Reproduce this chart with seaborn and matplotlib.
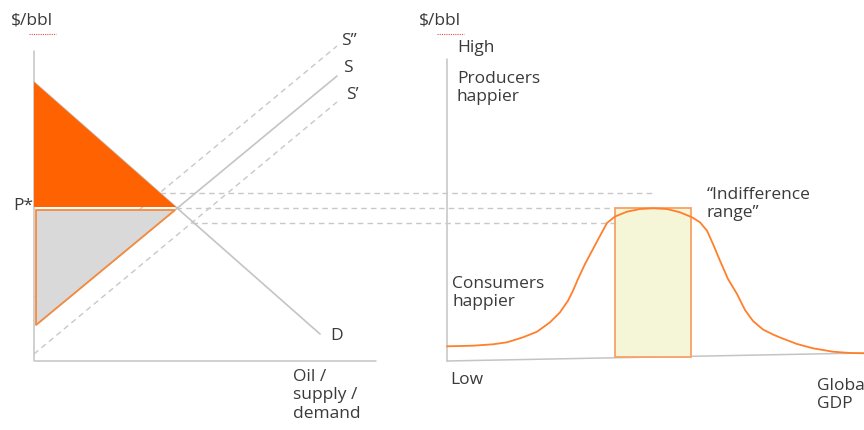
import numpy as np
import pandas as pd
import matplotlib
matplotlib.use('Agg')
import matplotlib.pyplot as plt
import seaborn as sns

sns.set_style('white')
plt.rcParams['font.family'] = ['Open Sans', 'DejaVu Sans']

## Data (diagram units: x to the right, y downwards, same scale as the picture)
# left panel: demand / supply lines
demand_x = [34, 320]
demand_y = [83, 335]
supply_x = [36, 337]
supply_y = [326, 77]
supply_hi_x = [34, 337]      # S''
supply_hi_y = [298, 47]
supply_lo_x = [34, 337]      # S'
supply_lo_y = [355, 103]

# price levels that run across to the right panel
price_levels = [194, 209, 224]
price_start = [160, 176, 192]
price_end = [653, 615, 615]

# producer / consumer surplus triangles
producer_x = [34, 34, 176]
producer_y = [83, 208, 208]
consumer_x = [36, 36, 175]
consumer_y = [211, 326, 211]

# right panel: happiness curve vs global GDP
gdp_x = [447, 473, 493, 507, 523, 537, 550, 560, 568, 573, 578, 585, 593, 601,
         607, 615, 627, 640, 653, 667, 680, 692, 700, 707, 713, 720, 728, 737,
         745, 753, 763, 773, 780, 797, 813, 833, 850, 864]
price_y = [347.3, 346.7, 345.3, 343.3, 338.3, 332.7, 323.3, 313.3, 301.7, 291.7,
           280, 265, 250, 235, 224, 217.5, 212.7, 210, 209.3, 210, 213.3, 218.3,
           223.3, 231.7, 245, 261.7, 280, 295, 311, 322, 330.5, 335.5, 338.5,
           345, 349.3, 352.7, 354, 354.3]

# indifference range box
box_x = [615, 691]
box_y = [209, 358]

fig = plt.figure(figsize=(8.64, 4.31), dpi=100)
ax = fig.add_axes([0, 0, 1, 1])
ax.set_xlim(0, 864)
ax.set_ylim(431, 0)
ax.axis('off')

axis_col = '#c4c4c4'
dash_col = '#c8c8c8'
orange = '#ff6200'
txt_col = '#3a3a3a'

# axes of both panels
ax.plot([34, 34], [52, 362], color=axis_col, lw=1.1)
ax.plot([35, 376], [362, 362], color=axis_col, lw=1.1)
ax.plot([447, 447], [60, 362], color=axis_col, lw=1.1)
ax.plot([447, 864], [362, 354], color=axis_col, lw=1.1)

# dashed supply lines and price levels
sns.lineplot(x=supply_hi_x, y=supply_hi_y, ax=ax, color=dash_col, lw=1, linestyle=(0, (4, 3)))
sns.lineplot(x=supply_lo_x, y=supply_lo_y, ax=ax, color=dash_col, lw=1, linestyle=(0, (4, 3)))
for lvl, x0, x1 in zip(price_levels, price_start, price_end):
    ax.plot([x0, x1], [lvl, lvl], color=dash_col, lw=1, linestyle=(0, (4, 3)))

# solid supply and demand
sns.lineplot(x=supply_x, y=supply_y, ax=ax, color=axis_col, lw=1.2)
sns.lineplot(x=demand_x, y=demand_y, ax=ax, color=axis_col, lw=1.2)

# surplus triangles
ax.fill(producer_x, producer_y, color=orange, lw=0, zorder=3)
ax.fill(consumer_x, consumer_y, facecolor='#d9d9d9', edgecolor='#f58a3c', lw=1.3, zorder=3)

# indifference box and curve
ax.fill([box_x[0], box_x[1], box_x[1], box_x[0]], [box_y[0], box_y[0], box_y[1], box_y[1]],
        facecolor='#f5f5d8', edgecolor='#f9a066', lw=1.3, zorder=2)
sns.lineplot(x=gdp_x, y=price_y, ax=ax, color='#ff7f2a', lw=1.3, zorder=4)

# labels
fs = 12.5
def label(x, y, s, **kw):
    ax.text(x, y, s, fontsize=fs, color=txt_col, ha='left', va='top', linespacing=1.2, **kw)

label(11, 13, '$/bbl')
label(419, 13, '$/bbl')
ax.plot([29, 56], [35, 35], color='#e05050', lw=0.8, linestyle=(0, (1, 1)))
ax.plot([437, 464], [35, 35], color='#e05050', lw=0.8, linestyle=(0, (1, 1)))
label(341, 33, 'S\u201d')
label(343, 60, 'S')
label(346, 87, 'S\u2019')
label(330, 328, 'D')
label(13, 198, 'P*')
label(293, 369, 'Oil /\nsupply /\ndemand')
label(457, 40, 'High')
label(457, 71, 'Producers\nhappier')
label(452, 276, 'Consumers\nhappier')
label(450, 372, 'Low')
label(817, 378, 'Global\nGDP')
label(707, 187, '\u201cIndifference\nrange\u201d')

plt.savefig('out.png', dpi=100)
